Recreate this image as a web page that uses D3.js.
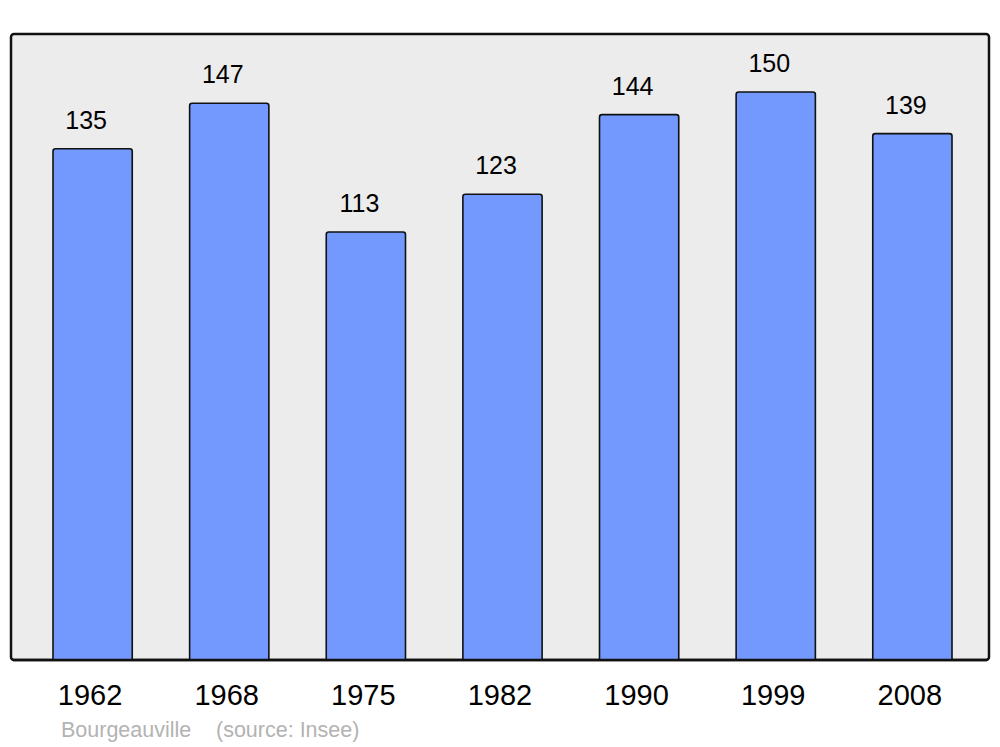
<!DOCTYPE html>
<html><head><meta charset="utf-8">
<script src="https://cdn.jsdelivr.net/npm/d3@7"></script>
<style>html,body{margin:0;padding:0;background:#fff;}</style>
</head><body>
<svg id="c" width="1000" height="747"></svg>
<script>
const years = ["1962","1968","1975","1982","1990","1999","2008"];
const population = [135,147,113,123,144,150,139];
const title = "Bourgeauville";
const source = "(source: Insee)";

const svg = d3.select("#c");
const font = "Liberation Sans, Arial, sans-serif";
const frame = {x0: 11, x1: 989, y0: 34, y1: 660};

const x = d3.scaleBand().domain(years).range([53, 952]).paddingInner(0.42).paddingOuter(0);
const y = d3.scaleLinear().domain([0, 165.3]).range([frame.y1, frame.y0]);

svg.append("rect").attr("x", frame.x0).attr("y", frame.y0)
  .attr("width", frame.x1 - frame.x0).attr("height", frame.y1 - frame.y0)
  .attr("rx", 3).attr("fill", "#ececec").attr("stroke", "#111").attr("stroke-width", 2.5);

const data = years.map((yr, i) => ({yr, v: population[i]}));

svg.selectAll("path.bar").data(data).enter().append("path")
  .attr("class", "bar")
  .attr("d", d => {
    const x0 = x(d.yr), w = x.bandwidth(), yt = y(d.v), yb = y(0), r = 2.5;
    return `M${x0},${yb}V${yt + r}Q${x0},${yt} ${x0 + r},${yt}H${x0 + w - r}Q${x0 + w},${yt} ${x0 + w},${yt + r}V${yb}`;
  })
  .attr("fill", "#7399ff").attr("stroke", "#111").attr("stroke-width", 1.6);

svg.append("line").attr("x1", frame.x0 + 2).attr("x2", frame.x1 - 2)
  .attr("y1", frame.y1).attr("y2", frame.y1).attr("stroke", "#111").attr("stroke-width", 2.5);

svg.selectAll("text.val").data(data).enter().append("text")
  .attr("class", "val")
  .attr("x", d => x(d.yr) + x.bandwidth() / 2 - 6.5)
  .attr("y", d => y(d.v) - 20)
  .attr("text-anchor", "middle")
  .attr("font-family", font).attr("font-size", 25).attr("fill", "#000")
  .text(d => d.v);

svg.selectAll("text.yr").data(data).enter().append("text")
  .attr("class", "yr")
  .attr("x", d => x(d.yr) + x.bandwidth() / 2 - 2.5)
  .attr("y", 705)
  .attr("text-anchor", "middle")
  .attr("font-family", font).attr("font-size", 29).attr("fill", "#000")
  .text(d => d.yr);

svg.append("text").attr("x", 61).attr("y", 737)
  .attr("font-family", font).attr("font-size", 21.5).attr("fill", "#b3b3b3")
  .text(title);
svg.append("text").attr("x", 216).attr("y", 737)
  .attr("font-family", font).attr("font-size", 21.5).attr("fill", "#b3b3b3")
  .text(source);
</script>
</body></html>
